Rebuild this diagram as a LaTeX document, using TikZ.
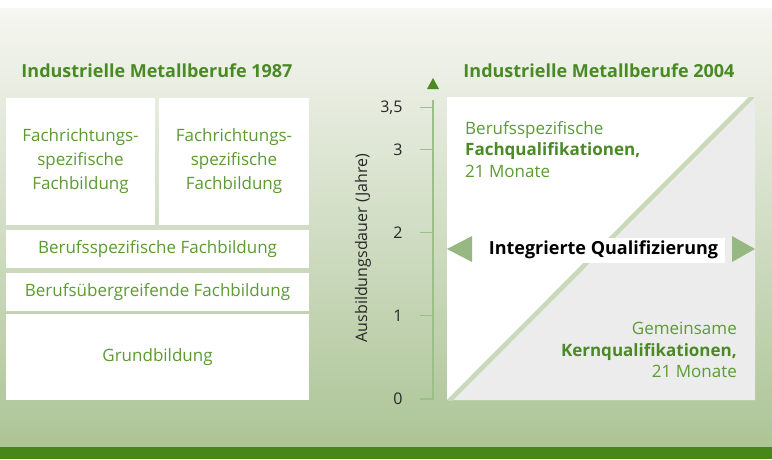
\documentclass[tikz,border=0pt]{standalone}
\usepackage{fontspec}
\setmainfont{Open Sans}
\definecolor{verdetitulo}{RGB}{74,138,36}
\definecolor{verdetexto}{RGB}{92,155,50}
\definecolor{verdeeixo}{RGB}{156,190,136}
\definecolor{verdeseta}{RGB}{152,184,131}
\definecolor{verdefaixa}{RGB}{200,218,186}
\definecolor{fundocima}{RGB}{246,246,242}
\definecolor{fundobaixo}{RGB}{172,196,150}
\definecolor{barra}{RGB}{70,134,26}
\definecolor{cinza}{RGB}{236,236,236}
\definecolor{numero}{RGB}{40,40,40}
\begin{document}
\begin{tikzpicture}[x=1pt,y=-1pt]
        %======definicao dos estilos==========%

            \tikzstyle{bloco}=[rectangle,fill=white,inner sep=0pt,align=center,text=verdetexto,font=\fontsize{17}{24}\selectfont]
            \tikzstyle{titulo}=[text=verdetitulo,font=\fontsize{18}{20}\selectfont\bfseries]
            \tikzstyle{eixo}=[verdeeixo,line width=1.2pt]
            \tikzstyle{seta}=[fill=verdeseta]
            \tikzstyle{legenda}=[text=verdetexto,inner sep=0pt,font=\fontsize{17}{21.5}\selectfont]

        %====================%%=============%

            \useasboundingbox (0,0) rectangle (772,459);
            \shade[top color=fundocima,bottom color=fundobaixo] (0,8) rectangle (772,447);
            \fill[barra] (0,447) rectangle (772,459);

        %======1987==========%

            \node[titulo](T1) at (157,71) {Industrielle Metallberufe 1987};
            \node[bloco,minimum width=149,minimum height=127](A) at (80.5,161.5) {Fachrichtungs-\\spezifische\\Fachbildung};
            \node[bloco,minimum width=150,minimum height=127](B) at (234,161.5) {Fachrichtungs-\\spezifische\\Fachbildung};
            \node[bloco,minimum width=303,minimum height=38](C) at (157.5,249) {Berufsspezifische Fachbildung};
            \node[bloco,minimum width=303,minimum height=38](D) at (157.5,292) {Berufsübergreifende Fachbildung};
            \node[bloco,minimum width=303,minimum height=86](E) at (157.5,357) {Grundbildung};

        %======eixo==========%

            \coordinate (O) at (433,400);
            \coordinate (Y) at (433,100);
            \draw[eixo] (O) -- (Y);
            \fill[verdetitulo] (427,89) -- (439,89) -- (433,78) -- cycle;
            \foreach \v/\l in {0/0,1/1,2/2,3/3,3.5/{3,5}} {
                \draw[eixo] (420,399-83.2*\v) -- (433,399-83.2*\v);
                \node[anchor=east,text=numero,font=\fontsize{16}{18}\selectfont] (n\l) at (406,399-83.2*\v) {\l};
            }
            \node[rotate=90,text=numero,font=\fontsize{16}{18}\selectfont](L) at (363,248) {Ausbildungsdauer (Jahre)};

        %======2004==========%

            \node[titulo](T2) at (599,71) {Industrielle Metallberufe 2004};
            \fill[white] (447,97) rectangle (755,400);
            \fill[cinza] (447,400) -- (755,400) -- (755,97) -- cycle;
            \begin{scope}
                \clip (447,97) rectangle (755,400);
                \draw[verdefaixa,line width=4.5pt] (449,401) -- (753,96);
            \end{scope}
            \node[legenda,align=left,anchor=north west](F) at (465,121) {Berufsspezifische\\\textbf{\color{verdetitulo}Fachqualifikationen,}\\21 Monate};
            \node[legenda,align=right,anchor=south east](K) at (737,378) {Gemeinsame\\\textbf{\color{verdetitulo}Kernqualifikationen,}\\21 Monate};
            \node[fill=white,minimum width=243,minimum height=25,inner sep=0pt,font=\fontsize{18}{20}\selectfont\bfseries](Q) at (603.5,250) {Integrierte Qualifizierung};
            \fill[seta] (447,249) -- (472,236) -- (472,262) -- cycle;
            \fill[seta] (755,249) -- (732,236) -- (732,262) -- cycle;
        \end{tikzpicture}
\end{document}
